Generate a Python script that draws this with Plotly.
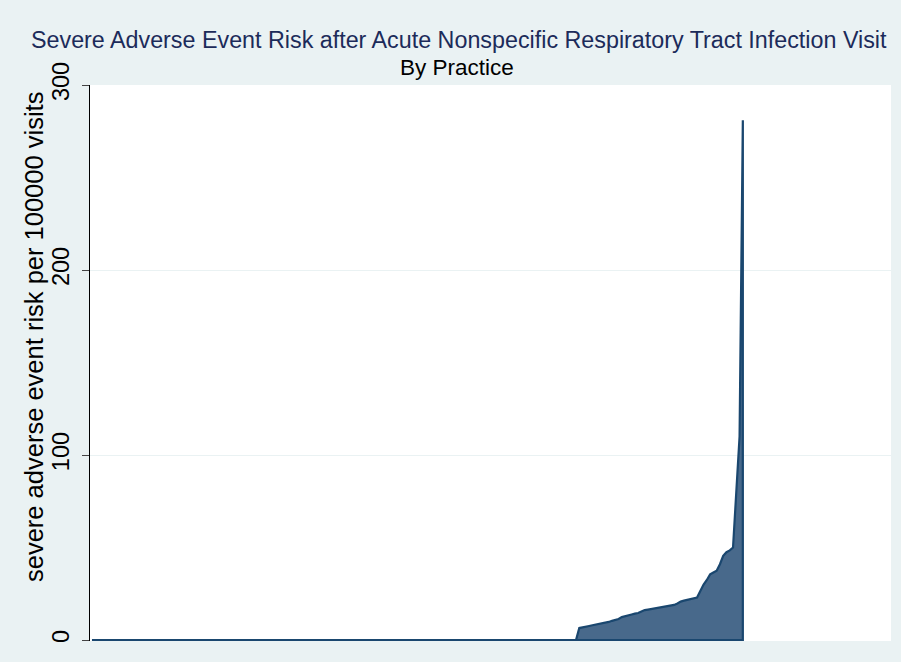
import plotly.graph_objects as go

# Practices ranked by severe adverse event risk (per 100000 visits)
n_zero_practices = 149
nonzero_risk = [
    6.5, 7.0, 7.2, 7.6, 8.0, 8.3, 8.6, 9.3, 9.6, 9.8,
    10.4, 10.8, 11.4, 12.4, 13.0, 13.2, 13.8, 14.3, 14.6, 15.4,
    16.2, 16.5, 16.8, 17.1, 17.3, 17.6, 17.8, 18.0, 18.3, 19.0,
    19.8, 20.8, 21.3, 21.8, 22.0, 22.4, 23.0, 26.5, 30.0, 32.5,
    35.5, 36.5, 37.5, 41.0, 45.5, 47.5, 48.5, 50.0, 77.0, 110.0,
    281.0,
]
risk = [0.0] * n_zero_practices + nonzero_risk
rank = list(range(1, len(risk) + 1))

y_ticks = [0, 100, 200, 300]
title_main = "Severe Adverse Event Risk after Acute Nonspecific Respiratory Tract Infection Visit"
title_sub = "By Practice"
y_title = "severe adverse event risk per 100000 visits"

# closed outline of the area: back down to the baseline and along it
area_x = rank + [rank[-1], rank[0]]
area_y = risk + [0.0, 0.0]

NAVY = "#1A476F"
FILL = "#48698B"
BG = "#EAF2F3"
FONT = "Liberation Sans, Arial, sans-serif"

fig = go.Figure()
fig.add_trace(go.Scatter(
    x=area_x, y=area_y,
    mode="lines",
    fill="toself",
    fillcolor=FILL,
    line=dict(color=NAVY, width=2.2),
    hoverinfo="skip",
    showlegend=False,
))

W, H = 901, 662
ml, mr, mt, mb = 90, 10, 85, 21
plot_h = H - mt - mb
plot_w = W - ml - mr

fig.update_layout(
    width=W, height=H,
    margin=dict(l=ml, r=mr, t=mt, b=mb, pad=0),
    paper_bgcolor=BG,
    plot_bgcolor="white",
    font=dict(family=FONT, color="black"),
    showlegend=False,
)

fig.update_xaxes(
    range=[0.4, 245.3],
    showgrid=False, zeroline=False, showline=False,
    showticklabels=False, ticks="",
)
fig.update_yaxes(
    range=[-0.5, 300],
    tickvals=y_ticks,
    ticktext=[str(t) for t in y_ticks],
    tickangle=-90,
    tickfont=dict(size=23.5, color="black", family=FONT),
    ticks="outside", ticklen=7, tickcolor="#444", tickwidth=1,
    ticklabelstandoff=3,
    showline=True, linecolor="black", linewidth=1.3,
    showgrid=True, gridcolor=BG, gridwidth=1,
    zeroline=False,
)

def px_to_paper_x(px):
    return (px - ml) / plot_w

def px_to_paper_y(py):
    return (H - mb - py) / plot_h

fig.add_annotation(
    text=title_main, xref="paper", yref="paper",
    x=px_to_paper_x(459), y=px_to_paper_y(40),
    xanchor="center", yanchor="middle", showarrow=False,
    font=dict(size=23.3, color="#1C2B5A", family=FONT),
)
fig.add_annotation(
    text=title_sub, xref="paper", yref="paper",
    x=px_to_paper_x(457), y=px_to_paper_y(68),
    xanchor="center", yanchor="middle", showarrow=False,
    font=dict(size=22.5, color="black", family=FONT),
)
fig.add_annotation(
    text=y_title, xref="paper", yref="paper",
    x=px_to_paper_x(34), y=px_to_paper_y(337),
    xanchor="center", yanchor="middle", showarrow=False,
    textangle=-90,
    font=dict(size=25.5, color="black", family=FONT),
)

fig.write_html("out.html")
